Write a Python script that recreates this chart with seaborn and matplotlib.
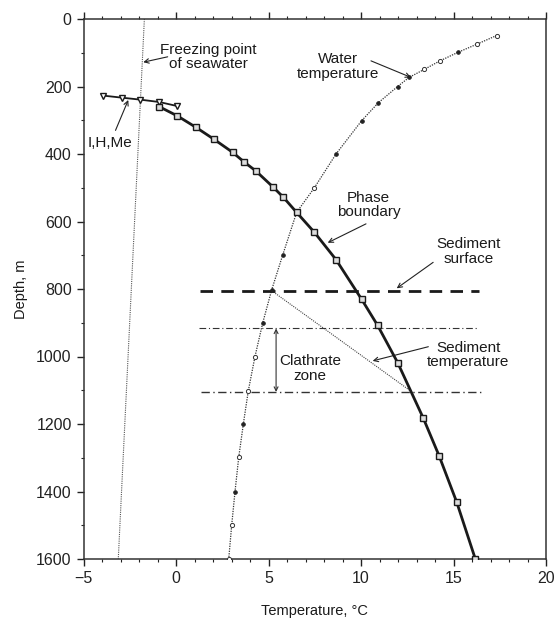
import numpy as np
import pandas as pd
import matplotlib
matplotlib.use("Agg")
import matplotlib.pyplot as plt
import seaborn as sns
from matplotlib.ticker import MultipleLocator

# ---------------- data ----------------
# Phase boundary (squares)
phase_T = [-0.90, 0.07, 1.08, 2.07, 3.06, 3.69, 4.31, 5.23, 5.80, 6.52, 7.48, 8.65,
           10.04, 10.90, 11.98, 13.37, 14.22, 15.17, 16.18]
phase_D = [260, 287, 321, 357, 395, 424, 450, 497, 528, 573, 632, 713,
           831, 908, 1018, 1183, 1294, 1431, 1600]

# I,H,Me boundary (down triangles)
ihme_T = [-3.93, -2.94, -1.92, -0.90, 0.07]
ihme_D = [227, 233, 239, 246, 258]

# Water temperature profile
water_T = [17.33, 16.25, 15.23, 14.27, 13.43, 12.60, 11.98, 10.94, 10.04, 8.65,
           7.48, 6.52, 5.77, 5.17, 4.69, 4.27, 3.91, 3.64, 3.39, 3.19, 3.01, 2.85]
water_D = [49, 75, 99, 124, 149, 173, 200, 248, 301, 400,
           500, 573, 699, 803, 900, 1000, 1101, 1200, 1299, 1400, 1500, 1600]
water_filled = [0, 0, 1, 0, 0, 1, 1, 1, 1, 1,
                0, 0, 1, 1, 1, 0, 0, 1, 0, 1, 0, 0]

# Freezing point of seawater
freeze_T = [-1.71, -3.12]
freeze_D = [0, 1600]

# Sediment temperature
sedtemp_T = [5.17, 12.65]
sedtemp_D = [805, 1101]

# Horizontal reference lines
surface_D = 805
surface_T = [1.30, 16.38]
clath_top_D = 917
clath_top_T = [1.24, 16.25]
clath_bot_D = 1105
clath_bot_T = [1.35, 16.60]

# ---------------- style ----------------
sns.set_theme(style="ticks")
plt.rcParams['font.family'] = ['Liberation Sans', 'DejaVu Sans']
plt.rcParams['axes.edgecolor'] = '#333333'

fig = plt.figure(figsize=(5.54, 6.19), dpi=100)
ax = fig.add_axes([83.5/554, 1-559/619, (546-83.5)/554, (559-19)/619])

ink = '#1a1a1a'

# freezing point
sns.lineplot(x=freeze_T, y=freeze_D, ax=ax, sort=False, estimator=None,
             color='#555555', lw=0.8, linestyle=(0, (1, 1)))

# water temperature line
wdf = pd.DataFrame({'T': water_T, 'D': water_D, 'f': water_filled})
sns.lineplot(data=wdf, x='T', y='D', ax=ax, sort=False, estimator=None,
             color='#333333', lw=0.9, linestyle=(0, (1, 1)))
sns.scatterplot(data=wdf[wdf.f == 1], x='T', y='D', ax=ax, s=7, color='#222222',
                edgecolor='#222222', linewidth=0.6, zorder=4)
sns.scatterplot(data=wdf[wdf.f == 0], x='T', y='D', ax=ax, s=9, facecolor='white',
                edgecolor='#333333', linewidth=0.7, zorder=4)

# sediment temperature
sns.lineplot(x=sedtemp_T, y=sedtemp_D, ax=ax, sort=False, estimator=None,
             color='#444444', lw=0.8, linestyle=(0, (1, 1)))

# horizontal lines
sns.lineplot(x=surface_T, y=[surface_D]*2, ax=ax, sort=False, estimator=None,
             color=ink, lw=2.0, linestyle=(0, (4.5, 3)))
sns.lineplot(x=clath_top_T, y=[clath_top_D]*2, ax=ax, sort=False, estimator=None,
             color='#333333', lw=0.8, linestyle=(0, (6, 2.5, 1, 2.5)))
sns.lineplot(x=clath_bot_T, y=[clath_bot_D]*2, ax=ax, sort=False, estimator=None,
             color='#333333', lw=1.0, linestyle=(0, (6, 2.5, 1, 2.5)))

# I,H,Me
sns.lineplot(x=ihme_T, y=ihme_D, ax=ax, sort=False, estimator=None,
             color=ink, lw=1.3, marker='v', markersize=5, markerfacecolor='white',
             markeredgecolor=ink, markeredgewidth=1.0)

# phase boundary
sns.lineplot(x=phase_T, y=phase_D, ax=ax, sort=False, estimator=None,
             color=ink, lw=2.0, marker='s', markersize=3.8, markerfacecolor='#dddddd',
             markeredgecolor=ink, markeredgewidth=1.0, zorder=5)

# double arrow (clathrate zone)
ax.annotate('', xy=(5.41, clath_top_D), xytext=(5.41, clath_bot_D),
            arrowprops=dict(arrowstyle='<->', color='#333333', lw=0.8,
                            shrinkA=0, shrinkB=0, mutation_scale=7))

# text annotations
fs = 11
arrow = dict(arrowstyle='->', color='#222222', lw=0.8, shrinkA=0, shrinkB=0,
             mutation_scale=8)
ax.text(1.73, 112, 'Freezing point\nof seawater', ha='center', va='center',
        fontsize=fs, linespacing=1.05, color=ink)
ax.annotate('', xy=(-1.77, 128), xytext=(-0.45, 112), arrowprops=arrow)

ax.text(-3.55, 366, 'I,H,Me', ha='center', va='center', fontsize=fs, color=ink)
ax.annotate('', xy=(-2.58, 240), xytext=(-3.27, 330), arrowprops=arrow)

ax.text(8.78, 141, 'Water\ntemperature', ha='center', va='center', fontsize=fs,
        linespacing=1.05, color=ink)
ax.annotate('', xy=(12.70, 173), xytext=(10.54, 124), arrowprops=arrow)

ax.text(10.4, 551, 'Phase\nboundary', ha='center', va='center', fontsize=fs,
        linespacing=1.05, color=ink)
ax.annotate('', xy=(8.2, 663), xytext=(10.27, 607), arrowprops=arrow)

ax.text(15.8, 689, 'Sediment\nsurface', ha='center', va='center', fontsize=fs,
        linespacing=1.05, color=ink)
ax.annotate('', xy=(11.93, 798), xytext=(13.9, 721), arrowprops=arrow)

ax.text(15.8, 996, 'Sediment\ntemperature', ha='center', va='center', fontsize=fs,
        linespacing=1.05, color=ink)
ax.annotate('', xy=(10.63, 1013), xytext=(13.64, 971), arrowprops=arrow)

ax.text(7.24, 1035, 'Clathrate\nzone', ha='center', va='center', fontsize=fs,
        linespacing=1.05, color=ink)

# axes setup
ax.set_xlim(-5, 20)
ax.set_ylim(1600, 0)
ax.xaxis.set_major_locator(MultipleLocator(5))
ax.xaxis.set_minor_locator(MultipleLocator(1))
ax.yaxis.set_major_locator(MultipleLocator(200))
ax.yaxis.set_minor_locator(MultipleLocator(100))
ax.tick_params(axis='x', which='both', top=True, bottom=True, direction='out',
               labelsize=11.5, colors='#222222')
ax.tick_params(axis='y', which='both', left=True, right=False, direction='out',
               labelsize=11.5, colors='#222222')
ax.tick_params(which='major', length=5, width=1.0)
ax.tick_params(which='minor', length=2.5, width=0.8)
ax.set_xticks([-5, 0, 5, 10, 15, 20])
ax.set_xticklabels(['\u22125', '0', '5', '10', '15', '20'])
for sp in ax.spines.values():
    sp.set_visible(True)
    sp.set_linewidth(1.1)
    sp.set_color('#333333')
ax.set_xlabel('Temperature, \u00b0C', fontsize=10.5, color=ink, labelpad=13)
ax.set_ylabel('Depth, m', fontsize=10.5, color=ink, labelpad=6)
ax.grid(False)

fig.savefig('out.png', dpi=100)
